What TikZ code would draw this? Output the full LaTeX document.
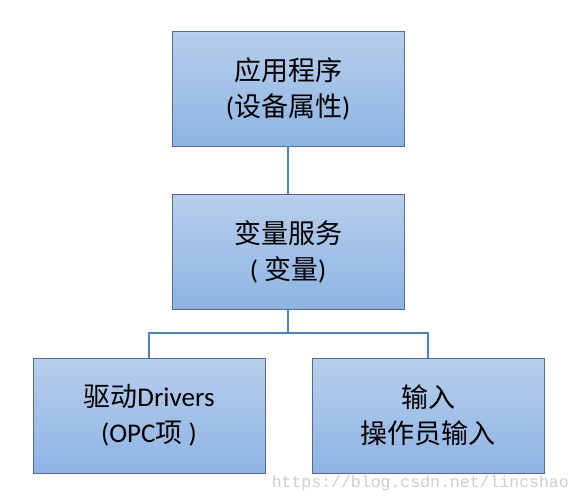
\documentclass[tikz,border=0pt]{standalone}
\usepackage{fontspec}
\setmainfont{Carlito}
\setmonofont{Liberation Mono}
\newfontfamily\cjk{Noto Sans CJK SC}
\definecolor{boxtop}{RGB}{183,206,236}
\definecolor{boxbot}{RGB}{142,180,227}
\definecolor{boxline}{RGB}{88,106,136}
\definecolor{linkc}{RGB}{79,129,189}
\definecolor{wmark}{RGB}{205,205,205}
\begin{document}
\begin{tikzpicture}[x=1pt,y=-1pt,
  box/.style={shade, top color=boxtop, bottom color=boxbot, draw=boxline, line width=1pt,
    minimum width=232pt, minimum height=115pt, inner sep=0pt, align=center,
    font=\fontsize{27}{36}\selectfont},
  link/.style={draw=linkc, line width=2pt}]
\useasboundingbox (0,0) rectangle (580,501);
\node[box] (app) at (288,88.5) {\raisebox{-2pt}{\cjk 应用程序}\\\raisebox{-2pt}{({\cjk 设备属性})}};
\node[box] (var) at (288,251.5) {\raisebox{-2pt}{\cjk 变量服务}\\\raisebox{-2pt}{( {\cjk 变量})}};
\node[box] (drv) at (149,415.5) {\raisebox{-2pt}{{\cjk 驱动}Drivers}\\\raisebox{-2pt}{(OPC{\cjk 项} )}};
\node[box] (inp) at (428,415.5) {\raisebox{-2pt}{\cjk 输入}\\\raisebox{-2pt}{\cjk 操作员输入}};
\coordinate (j) at (288,333);
\draw[link] (app.south) -- (var.north);
\draw[link] (var.south) -- (j);
\draw[link] (drv.north) |- (j) -| (inp.north);
\node[font=\ttfamily\fontsize{16.5}{18}\selectfont, text=wmark, anchor=base east, inner sep=0pt] (wm) at (569,487) {https://blog.csdn.net/lincshao};
\end{tikzpicture}
\end{document}
